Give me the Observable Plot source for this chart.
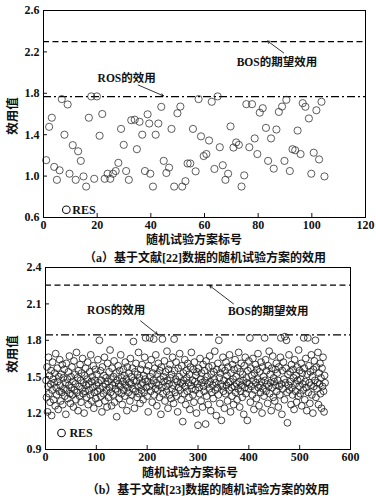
<!DOCTYPE html>
<html><head><meta charset="utf-8">
<script src="https://cdn.jsdelivr.net/npm/d3@7"></script>
<script src="https://cdn.jsdelivr.net/npm/@observablehq/plot@0.6"></script>
<style>
body{margin:0;background:#fff;}
#wrap{position:relative;width:376px;height:500px;overflow:hidden;font-family:"Liberation Serif","Noto Sans CJK SC",serif;color:#111;}
.abs{position:absolute;}
.cap{font-size:12px;white-space:nowrap;transform:translate(-50%,-50%);font-weight:bold;}
.ylab{font-size:12.5px;white-space:nowrap;transform:translate(-50%,-50%) rotate(-90deg);font-weight:bold;}
</style></head><body><div id="wrap"></div>
<script>
// ---------- Panel (a) data ----------
const aIdx = [1,2.1,3.1,4,5,6,6.8,7.8,9,9.7,10.9,12,12.9,13.9,14.9,15.9,16.9,17.8,18.9,19.9,20.9,21.9,22.8,23.9,24.9,25.9,26.9,27.9,28.9,29.9,30.8,31.8,32.7,34,34.8,35.8,36.8,37.8,38.8,39.4,39.8,40.8,41.8,42.8,43.9,44.8,45.8,46.8,47.7,48.7,49.9,51,51.7,52.9,53.7,54.7,55.7,56.7,57.8,58.7,59.7,60.7,61.7,62.7,63.7,64.9,65.7,66.8,67.8,68.8,69.7,70.8,71.8,72.8,73.8,74.8,75.6,76.7,77.7,78.7,79.7,80.6,81.7,82.9,83.7,84.8,85.8,86.8,87.7,88.9,89.8,90.5,91.8,92.8,93.8,94.7,95.8,96.6,97.6,98.9,99.8,100.7,101.7,102.7,103.6,104.7];
const aVal = [1.154,1.476,1.564,1.089,0.964,1.056,1.744,1.40,1.692,1.023,1.299,0.964,1.24,1.147,0.997,0.899,1.564,1.77,0.974,1.77,1.39,1.60,0.974,1.023,0.974,1.023,1.049,1.128,1.456,1.302,1.049,0.964,1.54,1.545,1.26,1.525,1.40,1.049,1.597,1.508,1.023,0.899,1.40,1.508,1.669,1.147,1.03,1.082,1.456,0.899,1.607,1.672,0.899,0.951,1.122,1.122,1.456,1.046,1.744,1.384,1.194,1.213,1.344,1.718,1.069,1.77,1.279,1.105,0.964,1.023,1.48,1.276,1.325,1.302,0.899,1.007,1.695,1.279,1.695,1.364,1.213,1.613,1.656,1.466,1.147,1.364,1.072,1.45,1.62,1.672,1.147,1.737,1.049,1.26,1.25,1.44,1.213,1.705,1.67,1.557,1.023,1.226,1.636,1.161,1.718,0.997];
const aBOS = 2.30, aROS = 1.768;
const aXTicks = [0,20,40,60,80,100,120];
const aYTicks = [0.6,1.0,1.4,1.8,2.2,2.6];
const aLabelText = ["BOS的期望效用","ROS的效用"];
const aLabelX = [87,31], aLabelY = [2.10,1.94];
const aArrX1 = [89.5,35.3], aArrY1 = [2.19,1.88], aArrX2 = [83.5,44.7], aArrY2 = [2.305,1.775];
const aResX = 8.5, aResY = 0.675, aResTextX = 10.7;

// ---------- Panel (b) data ----------
const bVal = [
1.47,1.33,1.58,1.21,1.42,1.66,1.36,1.51,1.29,1.44,1.55,1.18,1.39,1.62,1.48,1.31,1.45,1.53,1.26,1.69,1.41,1.35,1.57,1.46,1.23,1.50,1.38,1.64,1.43,1.30,1.52,1.37,1.60,1.27,1.49,1.40,1.56,1.34,1.45,1.19,1.61,1.39,1.48,1.32,1.54,1.43,1.67,1.36,1.28,1.50,
1.41,1.58,1.35,1.46,1.25,1.63,1.39,1.52,1.44,1.31,1.70,1.37,1.49,1.22,1.55,1.42,1.34,1.60,1.47,1.29,1.53,1.40,1.65,1.36,1.45,1.20,1.51,1.38,1.57,1.43,1.33,1.48,1.62,1.27,1.44,1.39,1.54,1.35,1.68,1.46,1.30,1.50,1.41,1.59,1.24,1.37,1.47,1.56,1.32,1.43,
1.52,1.38,1.64,1.45,1.28,1.80,1.40,1.55,1.34,1.47,1.21,1.58,1.42,1.36,1.51,1.66,1.30,1.44,1.49,1.39,1.25,1.61,1.46,1.33,1.54,1.41,1.72,1.37,1.48,1.26,1.57,1.43,1.35,1.50,1.63,1.29,1.45,1.40,1.53,1.17,1.47,1.38,1.59,1.44,1.32,1.55,1.42,1.68,1.36,1.49,
1.27,1.46,1.56,1.39,1.51,1.34,1.62,1.43,1.48,1.22,1.58,1.41,1.37,1.53,1.45,1.30,1.65,1.44,1.50,1.35,1.57,1.40,1.79,1.47,1.24,1.54,1.38,1.61,1.46,1.33,1.52,1.42,1.70,1.36,1.49,1.28,1.56,1.43,1.39,1.60,1.45,1.31,1.51,1.37,1.66,1.48,1.82,1.41,1.55,1.34,
1.46,1.21,1.59,1.42,1.82,1.50,1.38,1.64,1.44,1.29,1.53,1.47,1.81,1.35,1.57,1.40,1.68,1.45,1.26,1.52,1.39,1.61,1.43,1.33,1.55,1.48,1.19,1.58,1.41,1.81,1.36,1.50,1.46,1.63,1.30,1.54,1.42,1.38,1.71,1.47,1.24,1.56,1.44,1.35,1.60,1.49,1.32,1.52,1.40,1.66,
1.43,1.28,1.81,1.55,1.37,1.48,1.62,1.34,1.46,1.21,1.57,1.41,1.50,1.69,1.39,1.45,1.31,1.59,1.44,1.13,1.53,1.47,1.36,1.64,1.42,1.27,1.55,1.49,1.38,1.61,1.45,1.33,1.52,1.23,1.58,1.43,1.70,1.40,1.47,1.35,1.56,1.29,1.62,1.46,1.39,1.51,1.20,1.54,1.44,1.10,
1.57,1.41,1.36,1.65,1.48,1.30,1.53,1.45,1.25,1.60,1.42,1.38,1.55,1.47,1.11,1.63,1.34,1.50,1.44,1.27,1.58,1.40,1.67,1.46,1.22,1.52,1.37,1.59,1.43,1.32,1.54,1.48,1.71,1.39,1.45,1.18,1.56,1.41,1.61,1.35,1.80,1.49,1.28,1.53,1.44,1.14,1.57,1.42,1.66,1.38,
1.47,1.24,1.55,1.36,1.62,1.43,1.51,1.30,1.58,1.45,1.39,1.68,1.46,1.21,1.53,1.41,1.34,1.60,1.48,1.27,1.56,1.42,1.64,1.37,1.50,1.44,1.31,1.57,1.40,1.70,1.46,1.25,1.54,1.38,1.61,1.43,1.33,1.52,1.47,1.19,1.59,1.41,1.66,1.36,1.49,1.45,1.14,1.55,1.40,1.63,
1.44,1.82,1.29,1.57,1.42,1.51,1.35,1.65,1.47,1.23,1.53,1.39,1.60,1.45,1.32,1.56,1.48,1.69,1.41,1.26,1.54,1.43,1.37,1.62,1.46,1.20,1.58,1.40,1.50,1.34,1.82,1.47,1.64,1.38,1.55,1.44,1.28,1.59,1.42,1.71,1.36,1.52,1.45,1.22,1.57,1.41,1.67,1.33,1.49,1.46,
1.30,1.56,1.43,1.61,1.38,1.53,1.47,1.25,1.58,1.42,1.35,1.66,1.82,1.44,1.19,1.55,1.40,1.62,1.48,1.31,1.83,1.45,1.57,1.80,1.37,1.12,1.52,1.43,1.68,1.39,1.54,1.46,1.27,1.60,1.41,1.35,1.56,1.49,1.23,1.64,1.44,1.38,1.51,1.29,1.58,1.47,1.34,1.72,1.42,1.55,
1.36,1.48,1.61,1.26,1.53,1.44,1.39,1.82,1.57,1.31,1.46,1.65,1.41,1.22,1.52,1.82,1.37,1.59,1.45,1.28,1.54,1.43,1.68,1.35,1.50,1.20,1.56,1.42,1.63,1.47,1.80,1.33,1.58,1.40,1.45,1.70,1.27,1.53,1.44,1.61,1.36,1.49,1.24,1.57,1.42,1.66,1.38,1.21,1.51,1.45];
const bBOS = 2.255, bROS = 1.845;
const bXTicks = [0,100,200,300,400,500,600];
const bYTicks = [0.9,1.2,1.5,1.8,2.1,2.4];
const bLabelText = ["BOS的期望效用","ROS的效用"];
const bLabelX = [438,139], bLabelY = [2.035,2.05];
const bArrX1 = [370,187], bArrY1 = [2.10,1.96], bArrX2 = [323,220], bArrY2 = [2.25,1.85];
const bResX = 31.5, bResY = 1.036, bResTextX = 47;

const captions = ["（a）基于文献[22]数据的随机试验方案的效用","（b）基于文献[23]数据的随机试验方案的效用"];
const xTitle = "随机试验方案标号", yTitle = "效用值";

const FONT = '"Liberation Serif","Noto Sans CJK SC",serif';

function panel(o) {
  const pts = o.xs.map((x, i) => ({x, y: o.ys[i]}));
  const labels = o.lt.map((t, i) => ({t, x: o.lx[i], y: o.ly[i]}));
  const arrows = o.ax1.map((x1, i) => ({x1, y1: o.ay1[i], x2: o.ax2[i], y2: o.ay2[i]}));
  return Plot.plot({
    width: 376, height: o.height,
    marginTop: o.mt, marginBottom: o.mb, marginLeft: o.ml, marginRight: o.mr,
    style: {fontFamily: FONT, fontSize: "12px", fontWeight: "bold", color: "#111", background: "#fff"},
    x: {domain: o.xd},
    y: {domain: o.yd},
    marks: [
      Plot.ruleY([o.bos], {stroke: "#000", strokeWidth: 1.3, strokeDasharray: "6,3.5"}),
      Plot.ruleY([o.ros], {stroke: "#000", strokeWidth: 1.2, strokeDasharray: "8,3,2,3"}),
      Plot.dot(pts, {x: "x", y: "y", r: o.r, stroke: o.dc, strokeWidth: o.dw, fill: "none"}),
      Plot.arrow(arrows, {x1: "x1", y1: "y1", x2: "x2", y2: "y2", stroke: "#000", strokeWidth: 0.8, headLength: 5}),
      Plot.text(labels, {x: "x", y: "y", text: "t", fontSize: 11.5, fontWeight: "bold", fill: "#111"}),
      Plot.dot([{x: o.resX, y: o.resY}], {x: "x", y: "y", r: 3.8, stroke: "#111", strokeWidth: 1.1, fill: "none"}),
      Plot.text([{x: o.resTX, y: o.resY, t: "RES"}], {x: "x", y: "y", text: "t", textAnchor: "start", fontSize: 12, fontWeight: "bold", fill: "#111"}),
      Plot.axisX({ticks: o.xt, tickSize: -4, tickPadding: 7, label: null, tickFormat: d => String(d)}),
      Plot.axisY({ticks: o.yt, tickSize: -4, tickPadding: 8, label: null, tickFormat: d3.format(".1f")}),
      Plot.frame({stroke: "#000", strokeWidth: 1})
    ]
  });
}

const wrap = document.getElementById("wrap");
function place(el, top) { el.style.position = "absolute"; el.style.left = "0px"; el.style.top = top + "px"; wrap.appendChild(el); }
function text(cls, s, x, y) { const d = document.createElement("div"); d.className = "abs " + cls; d.textContent = s; d.style.left = x + "px"; d.style.top = y + "px"; wrap.appendChild(d); }

place(panel({height: 245, mt: 10, mb: 28, ml: 43, mr: 11, xd: [0,120], yd: [0.6,2.6], xt: aXTicks, yt: aYTicks,
  xs: aIdx, ys: aVal, r: 3.6, dc: "#333", dw: 0.8, bos: aBOS, ros: aROS, lt: aLabelText, lx: aLabelX, ly: aLabelY,
  ax1: aArrX1, ay1: aArrY1, ax2: aArrX2, ay2: aArrY2, resX: aResX, resY: aResY, resTX: aResTextX}), 0);

place(panel({height: 220, mt: 12, mb: 26, ml: 45, mr: 26, xd: [0,600], yd: [0.9,2.4], xt: bXTicks, yt: bYTicks,
  xs: bVal.map((_, i) => i + 1), ys: bVal, r: 3.4, dc: "#222", dw: 0.85, bos: bBOS, ros: bROS, lt: bLabelText, lx: bLabelX, ly: bLabelY,
  ax1: bArrX1, ay1: bArrY1, ax2: bArrX2, ay2: bArrY2, resX: bResX, resY: bResY, resTX: bResTextX}), 255);

text("cap", xTitle, 194, 239);
text("cap", captions[0], 205, 257);
text("cap", xTitle, 190, 472);
text("cap", captions[1], 208, 489);
text("ylab", yTitle, 11, 116);
text("ylab", yTitle, 11, 354);
</script></body></html>
